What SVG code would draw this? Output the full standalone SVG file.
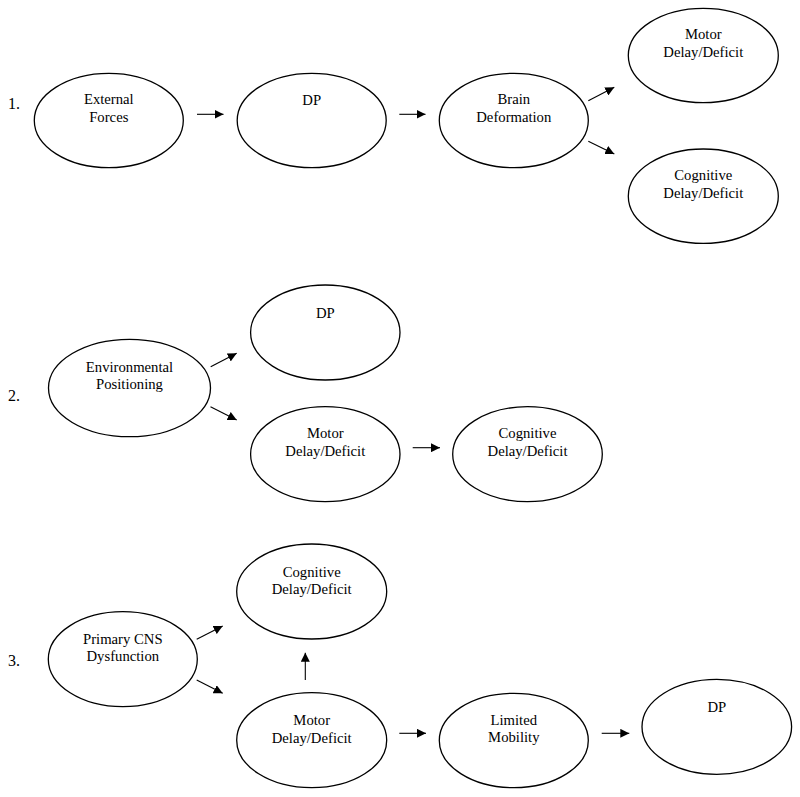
<svg xmlns="http://www.w3.org/2000/svg" width="800" height="797" viewBox="0 0 800 797" font-family="'Liberation Serif', 'Times New Roman', 'DejaVu Serif', serif">
<style>
  .node ellipse { fill: #ffffff; stroke: #000000; stroke-width: 1.3; }
  text { font-family: 'Liberation Serif', 'Times New Roman', 'DejaVu Serif', serif; fill: #000000; }
  .node text { font-size: 14.7px; text-anchor: middle; }
  .num { font-size: 16px; text-anchor: start; }
  .conn line { stroke: #000000; stroke-width: 1.1; marker-end: url(#ah); }
</style>
<defs>
  <marker id="ah" markerUnits="userSpaceOnUse" markerWidth="9" markerHeight="9" refX="9" refY="4.5" orient="auto">
    <path d="M0,0 L9,4.5 L0,9 z" fill="#000000"/>
  </marker>
</defs>
<rect width="800" height="797" fill="#ffffff"/>

<text class="num" x="8" y="109">1.</text>
<text class="num" x="8" y="401">2.</text>
<text class="num" x="8" y="666">3.</text>

<g class="conn">
  <line x1="197" y1="114.3" x2="223.5" y2="114.3"/>
  <line x1="399.3" y1="114.3" x2="425.5" y2="114.3"/>
  <line x1="588.3" y1="100.7" x2="614.3" y2="87.3"/>
  <line x1="588.3" y1="141.3" x2="614.3" y2="154"/>
  <line x1="210.7" y1="366.7" x2="236.7" y2="353.3"/>
  <line x1="210.5" y1="406.7" x2="236.7" y2="420"/>
  <line x1="412.7" y1="447.7" x2="440" y2="447.7"/>
  <line x1="196.7" y1="639.3" x2="222.7" y2="626"/>
  <line x1="196.7" y1="680" x2="222.7" y2="693.3"/>
  <line x1="305.3" y1="680" x2="305.3" y2="652.7"/>
  <line x1="399.3" y1="733.3" x2="426" y2="733.3"/>
  <line x1="601.7" y1="733.3" x2="629.3" y2="733.3"/>
</g>

<g id="s1-external" class="node">
  <ellipse cx="108.8" cy="120.5" rx="74.5" ry="47.2"/>
  <text x="108.8" y="104.3">External</text>
  <text x="108.8" y="122.3">Forces</text>
</g>
<g id="s1-dp" class="node">
  <ellipse cx="311.7" cy="120.5" rx="74.5" ry="47.2"/>
  <text x="311.7" y="105.3">DP</text>
</g>
<g id="s1-brain" class="node">
  <ellipse cx="513.8" cy="120.5" rx="74.5" ry="47.2"/>
  <text x="513.8" y="104.3">Brain</text>
  <text x="513.8" y="122.3">Deformation</text>
</g>
<g id="s1-motor" class="node">
  <ellipse cx="703.3" cy="55.5" rx="75" ry="47.2"/>
  <text x="703.3" y="39.3">Motor</text>
  <text x="703.3" y="57.3">Delay/Deficit</text>
</g>
<g id="s1-cognitive" class="node">
  <ellipse cx="703.3" cy="196.2" rx="75" ry="47.2"/>
  <text x="703.3" y="180">Cognitive</text>
  <text x="703.3" y="197.7">Delay/Deficit</text>
</g>

<g id="s2-environmental" class="node">
  <ellipse cx="129.5" cy="388" rx="81" ry="48.7"/>
  <text x="129.5" y="371.7">Environmental</text>
  <text x="129.5" y="389.3">Positioning</text>
</g>
<g id="s2-dp" class="node">
  <ellipse cx="325.3" cy="332.5" rx="74.7" ry="47.5"/>
  <text x="325.3" y="317.7">DP</text>
</g>
<g id="s2-motor" class="node">
  <ellipse cx="325.3" cy="454.2" rx="74.7" ry="47.5"/>
  <text x="325.3" y="437.7">Motor</text>
  <text x="325.3" y="455.7">Delay/Deficit</text>
</g>
<g id="s2-cognitive" class="node">
  <ellipse cx="527.5" cy="454.2" rx="74.8" ry="47.5"/>
  <text x="527.5" y="437.7">Cognitive</text>
  <text x="527.5" y="455.7">Delay/Deficit</text>
</g>

<g id="s3-primary" class="node">
  <ellipse cx="122.8" cy="659.2" rx="74.5" ry="47.5"/>
  <text x="122.8" y="644">Primary CNS</text>
  <text x="122.8" y="661">Dysfunction</text>
</g>
<g id="s3-cognitive" class="node">
  <ellipse cx="311.7" cy="591.5" rx="75" ry="47.5"/>
  <text x="311.7" y="576.7">Cognitive</text>
  <text x="311.7" y="594">Delay/Deficit</text>
</g>
<g id="s3-motor" class="node">
  <ellipse cx="311.7" cy="740.2" rx="75" ry="47.5"/>
  <text x="311.7" y="725">Motor</text>
  <text x="311.7" y="742.7">Delay/Deficit</text>
</g>
<g id="s3-limited" class="node">
  <ellipse cx="513.8" cy="740.5" rx="74.5" ry="47.2"/>
  <text x="513.8" y="725">Limited</text>
  <text x="513.8" y="742.3">Mobility</text>
</g>
<g id="s3-dp" class="node">
  <ellipse cx="716.8" cy="726.8" rx="74.8" ry="47.5"/>
  <text x="716.8" y="711.7">DP</text>
</g>
</svg>
